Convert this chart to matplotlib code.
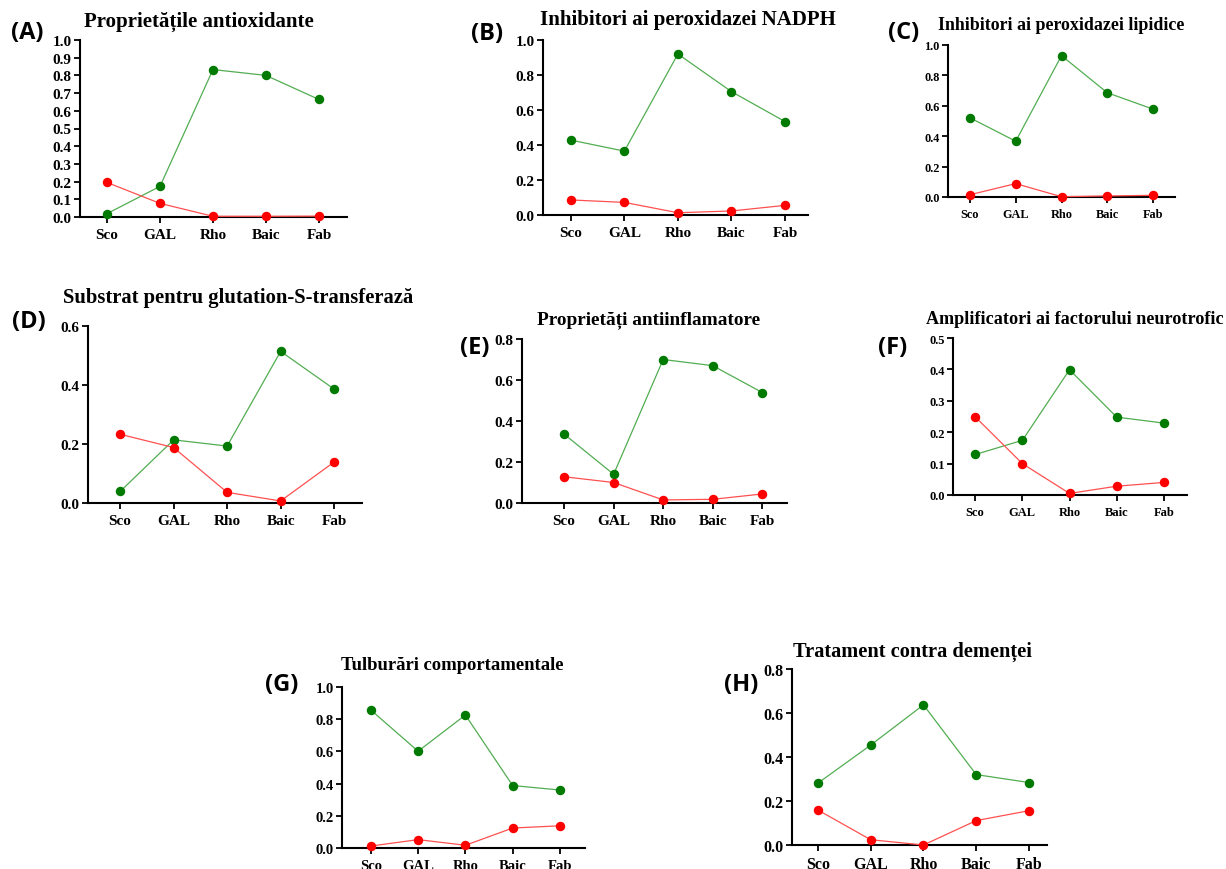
import matplotlib
matplotlib.use("Agg")
import matplotlib.pyplot as plt
import numpy as np

W, H = 1226, 870
fig = plt.figure(figsize=(W / 100, H / 100), dpi=100)

categories = ["Sco", "GAL", "Rho", "Baic", "Fab"]

panel_letters = ["(A)", "(B)", "(C)", "(D)", "(E)", "(F)", "(G)", "(H)"]
titles = [
    "Proprietățile antioxidante",
    "Inhibitori ai peroxidazei NADPH",
    "Inhibitori ai peroxidazei lipidice",
    "Substrat pentru glutation-S-transferază",
    "Proprietăți antiinflamatore",
    "Amplificatori ai factorului neurotrofic",
    "Tulburări comportamentale",
    "Tratament contra demenței",
]

green_A = [0.019, 0.173, 0.833, 0.800, 0.664]
red_A = [0.195, 0.077, 0.004, 0.004, 0.005]
green_B = [0.428, 0.365, 0.920, 0.705, 0.534]
red_B = [0.086, 0.072, 0.013, 0.023, 0.055]
green_C = [0.521, 0.367, 0.930, 0.686, 0.578]
red_C = [0.015, 0.088, 0.002, 0.007, 0.011]
green_D = [0.039, 0.214, 0.193, 0.514, 0.386]
red_D = [0.233, 0.188, 0.036, 0.007, 0.139]
green_E = [0.336, 0.140, 0.700, 0.670, 0.539]
red_E = [0.128, 0.100, 0.015, 0.018, 0.044]
green_F = [0.129, 0.174, 0.399, 0.248, 0.229]
red_F = [0.249, 0.100, 0.005, 0.028, 0.040]
green_G = [0.857, 0.601, 0.826, 0.388, 0.360]
red_G = [0.012, 0.052, 0.017, 0.124, 0.138]
green_H = [0.281, 0.454, 0.637, 0.320, 0.284]
red_H = [0.159, 0.024, 0.000, 0.111, 0.156]

greens = [green_A, green_B, green_C, green_D, green_E, green_F, green_G, green_H]
reds = [red_A, red_B, red_C, red_D, red_E, red_F, red_G, red_H]

y_max = [1.0, 1.0, 1.0, 0.6, 0.8, 0.5, 1.0, 0.8]
y_step = [0.1, 0.2, 0.2, 0.2, 0.2, 0.1, 0.2, 0.2]

# layout (pixels): left, right, top(ymax), bottom(y=0)
boxes = [
    (80, 347, 41, 218),
    (543, 808, 41, 216),
    (948, 1175, 46, 198),
    (88, 362, 327, 504),
    (522, 787, 340, 504),
    (953, 1187, 339, 496),
    (342, 585, 688, 849),
    (792, 1047, 670, 846),
]
xlims = [(-0.51, 4.53), (-0.52, 4.43), (-0.48, 4.48), (-0.6, 4.52),
         (-0.85, 4.5), (-0.47, 4.49), (-0.61, 4.53), (-0.49, 4.34)]
tick_fs = [11, 11, 8.8, 11, 11, 9, 10.5, 11.5]
title_pos = [(199, 22), (688, 20), (1061, 25), (238, 298),
             (649, 320), (1075, 320), (452, 666), (912, 652)]
title_fs = [15, 15, 12.9, 14.9, 13.9, 13.1, 13.4, 14.7]
letter_pos = [(27, 33), (487, 34), (904, 33), (29, 322),
              (475, 348), (893, 348), (282, 685), (741, 685)]

serif = ["Liberation Serif", "DejaVu Serif"]
green_line = "#52ad52"
green_mark = "#007a00"
red_line = "#ff5050"
red_mark = "#ff0000"

x = np.arange(len(categories))
for i in range(8):
    l, r, t, b = boxes[i]
    ax = fig.add_axes([l / W, 1 - b / H, (r - l) / W, (b - t) / H])
    ax.plot(x, greens[i], color=green_line, lw=0.9, zorder=2, clip_on=False)
    ax.plot(x, greens[i], ls="none", marker="o", ms=5.8, color=green_mark, zorder=3, clip_on=False)
    ax.plot(x, reds[i], color=red_line, lw=0.9, zorder=4, clip_on=False)
    ax.plot(x, reds[i], ls="none", marker="o", ms=5.8, color=red_mark, zorder=5, clip_on=False)
    ax.set_xlim(*xlims[i])
    ax.set_ylim(0, y_max[i])
    yt = np.round(np.arange(0, y_max[i] + 1e-9, y_step[i]), 2)
    ax.set_yticks(yt)
    ax.set_yticklabels([f"{v:.1f}" for v in yt], fontfamily=serif, fontweight="bold", fontsize=tick_fs[i])
    ax.set_xticks(x)
    ax.set_xticklabels(categories, fontfamily=serif, fontweight="bold", fontsize=tick_fs[i])
    for s in ["top", "right"]:
        ax.spines[s].set_visible(False)
    for s in ["left", "bottom"]:
        ax.spines[s].set_linewidth(1.5)
    ax.tick_params(axis="both", length=4, width=1.3, pad=2)
    ax.tick_params(axis="x", pad=4)
    tx, ty = title_pos[i]
    fig.text(tx / W, 1 - ty / H, titles[i], ha="center", va="center",
             fontfamily=serif, fontweight="bold", fontsize=title_fs[i])
    lx, ly = letter_pos[i]
    fig.text(lx / W, 1 - ly / H, panel_letters[i], ha="center", va="center",
             fontfamily=["Open Sans", "DejaVu Sans"], fontweight="bold", fontsize=17)

fig.savefig("out.png", dpi=100)
